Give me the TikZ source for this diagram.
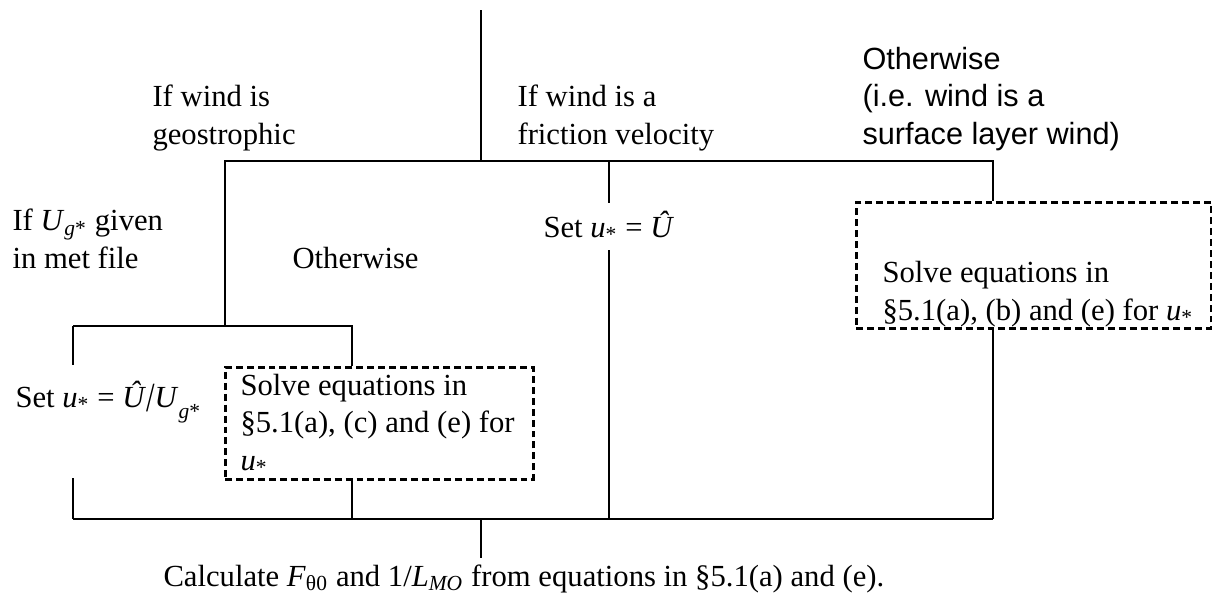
\documentclass[tikz,border=0pt]{standalone}
\usepackage{fontspec}
\setmainfont{Liberation Serif}
\setsansfont{Liberation Sans}
\newcommand{\ustar}{\textit{u}\textsubscript{*}}
\newcommand{\Uhat}{\textit{Û}}
\newcommand{\Ugs}{\textit{U}\textsubscript{\textit{g}*}}
\newcommand{\bigslash}{\raisebox{-0.3ex}{\scalebox{1}[1.35]{/}}}

\begin{document}
\begin{tikzpicture}[x=0.375pt,y=-0.375pt,
	lbl/.style={anchor=base west, inner sep=0pt, align=left,
		font=\fontsize{11.5}{13.9}\selectfont},
	sanslbl/.style={lbl, font=\sffamily\fontsize{11.5}{13.9}\selectfont},
	tree/.style={line width=1pt},
	solvebox/.style={draw, line width=1pt, dash pattern=on 2.6pt off 1.5pt,
		anchor=north west, inner sep=0pt}]
	\useasboundingbox (0,0) rectangle (1212,599);
	% junctions of the tree
	\coordinate (root) at (481,10);
	\coordinate (fork) at (481,161);
	\coordinate (geo) at (225,161);
	\coordinate (fric) at (609,161);
	\coordinate (surf) at (993,161);
	\coordinate (geofork) at (225,326);
	\coordinate (given) at (73,326);
	\coordinate (other) at (352,326);
	\coordinate (givenup) at (73,365);
	\coordinate (givendn) at (73,478);
	\coordinate (joinL) at (73,519);
	\coordinate (joinO) at (352,519);
	\coordinate (joinF) at (609,519);
	\coordinate (joinS) at (993,519);
	\coordinate (join) at (481,519);
	\coordinate (result) at (481,558);
	% dashed boxes
	\node[solvebox, minimum width=133.1pt, minimum height=47.25pt] (solveS) at (855,201) {};
	\node[solvebox, minimum width=115.5pt, minimum height=42pt] (solveO) at (224,366) {};
	% lines
	\draw[tree] (root) -- (fork);
	\draw[tree] (geofork) -- (geo) -- (surf) -- (surf |- solveS.north);
	\draw[tree] (fric) -- (joinF);
	\draw[tree] (given) -- (givenup);
	\draw[tree] (givendn) -- (joinL);
	\draw[tree] (given) -- (other) -- (other |- solveO.north);
	\draw[tree] (other |- solveO.south) -- (joinO);
	\draw[tree] (surf |- solveS.south) -- (joinS);
	\draw[tree] (joinL) -- (joinS);
	\draw[tree] (join) -- (result);
	% texts (base = last line)
	\node[lbl] (geoT) at (152,144) {If wind is\\geostrophic};
	\node[lbl] (fricT) at (517,144) {If wind is a\\friction velocity};
	\node[sanslbl] (surfT) at (862,144) {Otherwise\\(i.e. wind is a\\surface layer wind)};
	\node[lbl] (givenT) at (12,268) {If \Ugs{} given\\in met file};
	\node[lbl] (otherT) at (292,268) {Otherwise};
	\node[lbl, fill=white, inner ysep=3pt] (setU) at (543,237) {Set \ustar{} = \Uhat};
	\node[lbl] (setG) at (15,407) {Set \ustar{} = \Uhat\bigslash\textit{U}\raisebox{-0.5ex}{\textsubscript{\textit{g}*}}};
	\node[lbl] (solveOT) at (240,470) {Solve equations in\\§5.1(a), (c) and (e) for\\\ustar};
	\node[lbl] (solveST) at (882,320) {Solve equations in\\§5.1(a), (b) and (e) for \ustar};
	\node[lbl] (resultT) at (163,586) {Calculate \textit{F}\textsubscript{θ0} and 1/\textit{L}\textsubscript{\textit{MO}} from equations in §5.1(a) and (e).};
\end{tikzpicture}
\end{document}
